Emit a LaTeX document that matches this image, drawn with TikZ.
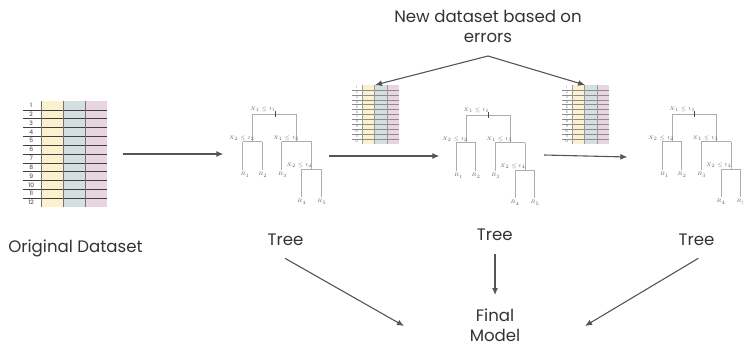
\documentclass[tikz,border=0pt]{standalone}
\usepackage{fontspec}
\setmainfont{Poppins}
\usepackage{tikz}
\usetikzlibrary{arrows.meta,positioning}

\definecolor{yellowcol}{HTML}{FBF1CF}
\definecolor{bluecol}{HTML}{D5DFE1}
\definecolor{pinkcol}{HTML}{E9D5DF}
\definecolor{flowgray}{HTML}{555555}

\tikzset{
  bigtext/.style={font=\fontsize{16.6}{20}\selectfont,text=black!80,align=center,inner sep=0pt},
  flow/.style={draw=flowgray,line width=1.1pt,-{Latex[length=7pt,width=6pt]}},
  treeline/.style={draw=black!32,line width=0.8pt},
  splitlbl/.style={font=\fontsize{5.5}{6}\selectfont,text=black!60,inner sep=0pt},
  rowline/.style={draw=black!75,line width=0.6pt},
  colline/.style={draw=black!55,line width=0.6pt},
  rownum/.style={font=\fontsize{6}{6}\selectfont,text=black!80,inner sep=0pt},
  smalltable/.style={scale=0.555,transform shape,
    rowline/.append style={draw=black!45,line width=0.35pt},
    colline/.append style={draw=black!40,line width=0.35pt},
    rownum/.append style={text=black!55}},
  splittree/.pic={
    \draw[treeline] (-22.3,0) -- (21.7,0);
    \draw[draw=black!70,line width=0.6pt] (0,-3) -- (0,3);
    \draw[treeline] (-22.3,0) -- (-22.3,27.7);
    \draw[treeline] (21.7,0) -- (21.7,27.7);
    \draw[treeline] (-32.3,27.7) -- (-12.7,27.7);
    \draw[treeline] (-32.3,27.7) -- (-32.3,56);
    \draw[treeline] (-12.7,27.7) -- (-12.7,56);
    \draw[treeline] (6.7,27.7) -- (36.7,27.7);
    \draw[treeline] (6.7,27.7) -- (6.7,56);
    \draw[treeline] (36.7,27.7) -- (36.7,55.3);
    \draw[treeline] (26.7,55.3) -- (46,55.3);
    \draw[treeline] (26.7,55.3) -- (26.7,82.7);
    \draw[treeline] (46,55.3) -- (46,82.7);
    \node[splitlbl] (-s1) at (-12,-5) {$X_1\le t_1$};
    \node[splitlbl] (-s2) at (-33.3,24.3) {$X_2\le t_2$};
    \node[splitlbl] (-s3) at (11,24.3) {$X_1\le t_3$};
    \node[splitlbl] (-s4) at (24.3,51) {$X_2\le t_4$};
    \node[splitlbl] (-l1) at (-30,61) {$R_1$};
    \node[splitlbl] (-l2) at (-12.3,61) {$R_2$};
    \node[splitlbl] (-l3) at (7.3,61) {$R_3$};
    \node[splitlbl] (-l4) at (26.7,87.7) {$R_4$};
    \node[splitlbl] (-l5) at (46.7,87.7) {$R_5$};
  },
  datatable/.pic={
    \fill[yellowcol] (18.3,0) rectangle (40.6,106);
    \fill[bluecol] (40.6,0) rectangle (62.3,106);
    \fill[pinkcol] (62.3,0) rectangle (84,106);
    \foreach \i in {1,...,11}
      \draw[rowline] (0,\i*8.83) -- (84,\i*8.83);
    \foreach \x in {18.3,40.6,62.3}
      \draw[colline] (\x,0) -- (\x,106);
    \foreach \i in {1,...,12}
      \node[rownum] (-n\i) at (8.5,\i*8.83-4.4) {\i};
  }
}

\begin{document}
\begin{tikzpicture}[x=1pt,y=-1pt]
\clip (0,0) rectangle (743,343);
\useasboundingbox (0,0) rectangle (743,343);

% data sets
\pic (orig) at (22.7,101) {datatable};
\pic[smalltable] (errA) at (352.1,85) {datatable};
\pic[smalltable] (errB) at (562.1,85) {datatable};

% trees
\pic (treeA) at (275,114) {splittree};
\pic (treeB) at (488.3,115) {splittree};
\pic (treeC) at (694.3,114) {splittree};

% labels
\node[bigtext] (origlbl) at (75.5,248.3) {Original Dataset};
\node[bigtext] (newdata) at (488,26) {New dataset based on\\errors};
\node[bigtext] (tree1) at (285.5,240) {Tree};
\node[bigtext] (tree2) at (494.8,235) {Tree};
\node[bigtext] (tree3) at (696.5,240) {Tree};
\node[bigtext] (final) at (495,325.5) {Final\\Model};

% arrow ends
\coordinate (a1s) at (122.7,154);
\coordinate (a1e) at (223.3,154);
\coordinate (a2s) at (329.3,156);
\coordinate (a2e) at (439.3,156);
\coordinate (a3s) at (544,155);
\coordinate (a3e) at (627.3,157);
\coordinate (apex) at (488,56);
\coordinate (errAtop) at (375,85);
\coordinate (errBtop) at (585,85);
\coordinate (m1s) at (285,258.3);
\coordinate (m1e) at (404,326);
\coordinate (m2s) at (495,254);
\coordinate (m2e) at (495,295);
\coordinate (m3s) at (698.3,258.3);
\coordinate (m3e) at (585,326);

\draw[flow] (a1s) -- (a1e);
\draw[flow] (a2s) -- (a2e);
\draw[flow] (a3s) -- (a3e);
\draw[flow] (apex) -- (errAtop);
\draw[flow] (apex) -- (errBtop);
\draw[flow] (m1s) -- (m1e);
\draw[flow] (m2s) -- (m2e);
\draw[flow] (m3s) -- (m3e);
\end{tikzpicture}
\end{document}
